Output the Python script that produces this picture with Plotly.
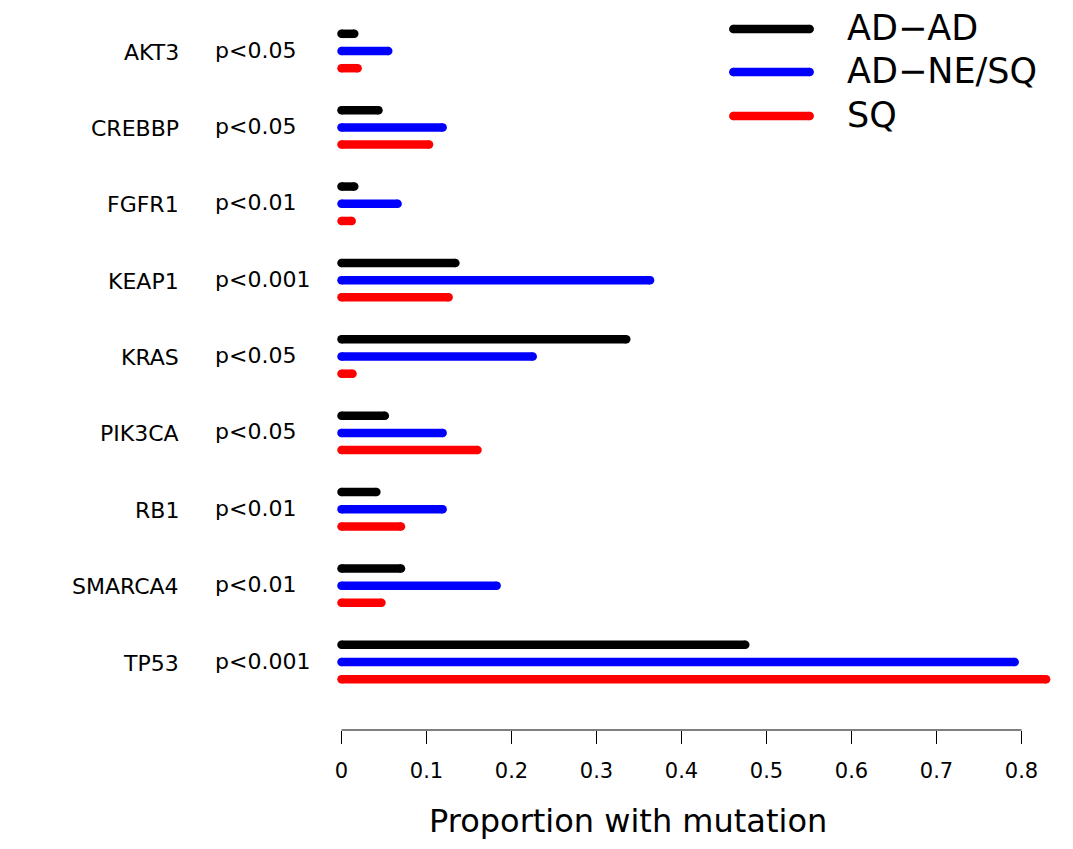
import plotly.graph_objects as go

genes = ["AKT3", "CREBBP", "FGFR1", "KEAP1", "KRAS", "PIK3CA", "RB1", "SMARCA4", "TP53"]
pvals = ["p<0.05", "p<0.05", "p<0.01", "p<0.001", "p<0.05", "p<0.05", "p<0.01", "p<0.01", "p<0.001"]
ad_ad = [0.015, 0.0435, 0.015, 0.134, 0.335, 0.051, 0.041, 0.070, 0.475]
ad_ne_sq = [0.055, 0.119, 0.066, 0.363, 0.225, 0.119, 0.119, 0.1825, 0.792]
sq = [0.019, 0.103, 0.012, 0.126, 0.013, 0.160, 0.070, 0.047, 0.829]
series_names = ["AD\u2212AD", "AD\u2212NE/SQ", "SQ"]
tick_vals = [0, 0.1, 0.2, 0.3, 0.4, 0.5, 0.6, 0.7, 0.8]
tick_text = ["0", "0.1", "0.2", "0.3", "0.4", "0.5", "0.6", "0.7", "0.8"]

colors = ["black", "blue", "red"]
FONT = "DejaVu Sans, Liberation Sans, Arial, sans-serif"

# page offset (default body margin) compensated
OFF_PX = 8
W_FIG, H_FIG = 1073 - 2 * OFF_PX, 849 - 2 * OFF_PX

# target geometry in window pixels
L, R_EDGE = 337, 1055
T, B = 10, 730
PW, PH = R_EDGE - L, B - T
X0_PX = 341.5
PX_PER_UNIT = 850.0
GROUP_PX = 76.375
Y_TOP = -(51 - T) / GROUP_PX
Y_BOT = Y_TOP + PH / GROUP_PX
OFF = 17.2 / GROUP_PX
LW = 8.5


def xp(px):
    return (px - L) / PW


def yp(py):
    return (B - py) / PH


def xd(px):
    return (px - X0_PX) / PX_PER_UNIT


def yd(py):
    return (py - T) / GROUP_PX + Y_TOP


fig = go.Figure()

for s_idx, (vals, col) in enumerate(zip([ad_ad, ad_ne_sq, sq], colors)):
    xs, ys = [], []
    for g_idx, v in enumerate(vals):
        yy = g_idx + (s_idx - 1) * OFF
        xs += [0, v, None]
        ys += [yy, yy, None]
    fig.add_trace(go.Scatter(
        x=xs, y=ys, mode="lines+markers",
        line=dict(color=col, width=LW),
        marker=dict(color=col, size=LW, line=dict(width=0)),
        showlegend=False, hoverinfo="skip", cliponaxis=False,
    ))

# legend (drawn manually)
leg_y_px = [29, 72, 116]
for name, col, ly in zip(series_names, colors, leg_y_px):
    fig.add_trace(go.Scatter(
        x=[xd(733.3), xd(809.7)], y=[yd(ly), yd(ly)], mode="lines+markers",
        line=dict(color=col, width=LW),
        marker=dict(color=col, size=LW, line=dict(width=0)),
        showlegend=False, hoverinfo="skip", cliponaxis=False,
    ))
    fig.add_annotation(x=xp(845), y=yp(ly - 1), xref="paper", yref="paper",
                       text=name, showarrow=False, xanchor="left", yanchor="middle",
                       font=dict(family=FONT, size=35, color="black"))

for g_idx, (g, p) in enumerate(zip(genes, pvals)):
    cy = T + (g_idx - Y_TOP) * GROUP_PX
    fig.add_annotation(x=xp(181), y=yp(cy + 1), xref="paper", yref="paper",
                       text=g, showarrow=False, xanchor="right", yanchor="middle",
                       font=dict(family=FONT, size=22, color="black"))
    fig.add_annotation(x=xp(213), y=yp(cy - 1), xref="paper", yref="paper",
                       text=p, showarrow=False, xanchor="left", yanchor="middle",
                       font=dict(family=FONT, size=22, color="black"))

# axis title
fig.add_annotation(x=xp(628), y=yp(821), xref="paper", yref="paper",
                   text="Proportion with mutation", showarrow=False,
                   xanchor="center", yanchor="middle",
                   font=dict(family=FONT, size=32, color="black"))

# axis line only spanning ticks (R style)
fig.add_shape(type="line", xref="x", yref="paper", x0=tick_vals[0], x1=tick_vals[-1],
              y0=0, y1=0, line=dict(color="black", width=1))

fig.update_layout(
    width=W_FIG, height=H_FIG,
    margin=dict(l=L - OFF_PX, r=W_FIG - (R_EDGE - OFF_PX),
                t=T - OFF_PX, b=H_FIG - (B - OFF_PX), pad=0),
    plot_bgcolor="white", paper_bgcolor="white",
    xaxis=dict(range=[xd(L), xd(R_EDGE)], showgrid=False, zeroline=False,
               showline=False, ticks="outside", ticklen=13, tickwidth=1,
               tickcolor="black", tickvals=tick_vals, ticktext=tick_text,
               ticklabelstandoff=9,
               tickfont=dict(family=FONT, size=21, color="black")),
    yaxis=dict(range=[Y_BOT, Y_TOP], showgrid=False, zeroline=False,
               showline=False, showticklabels=False, ticks=""),
)

fig.write_html("out.html")
